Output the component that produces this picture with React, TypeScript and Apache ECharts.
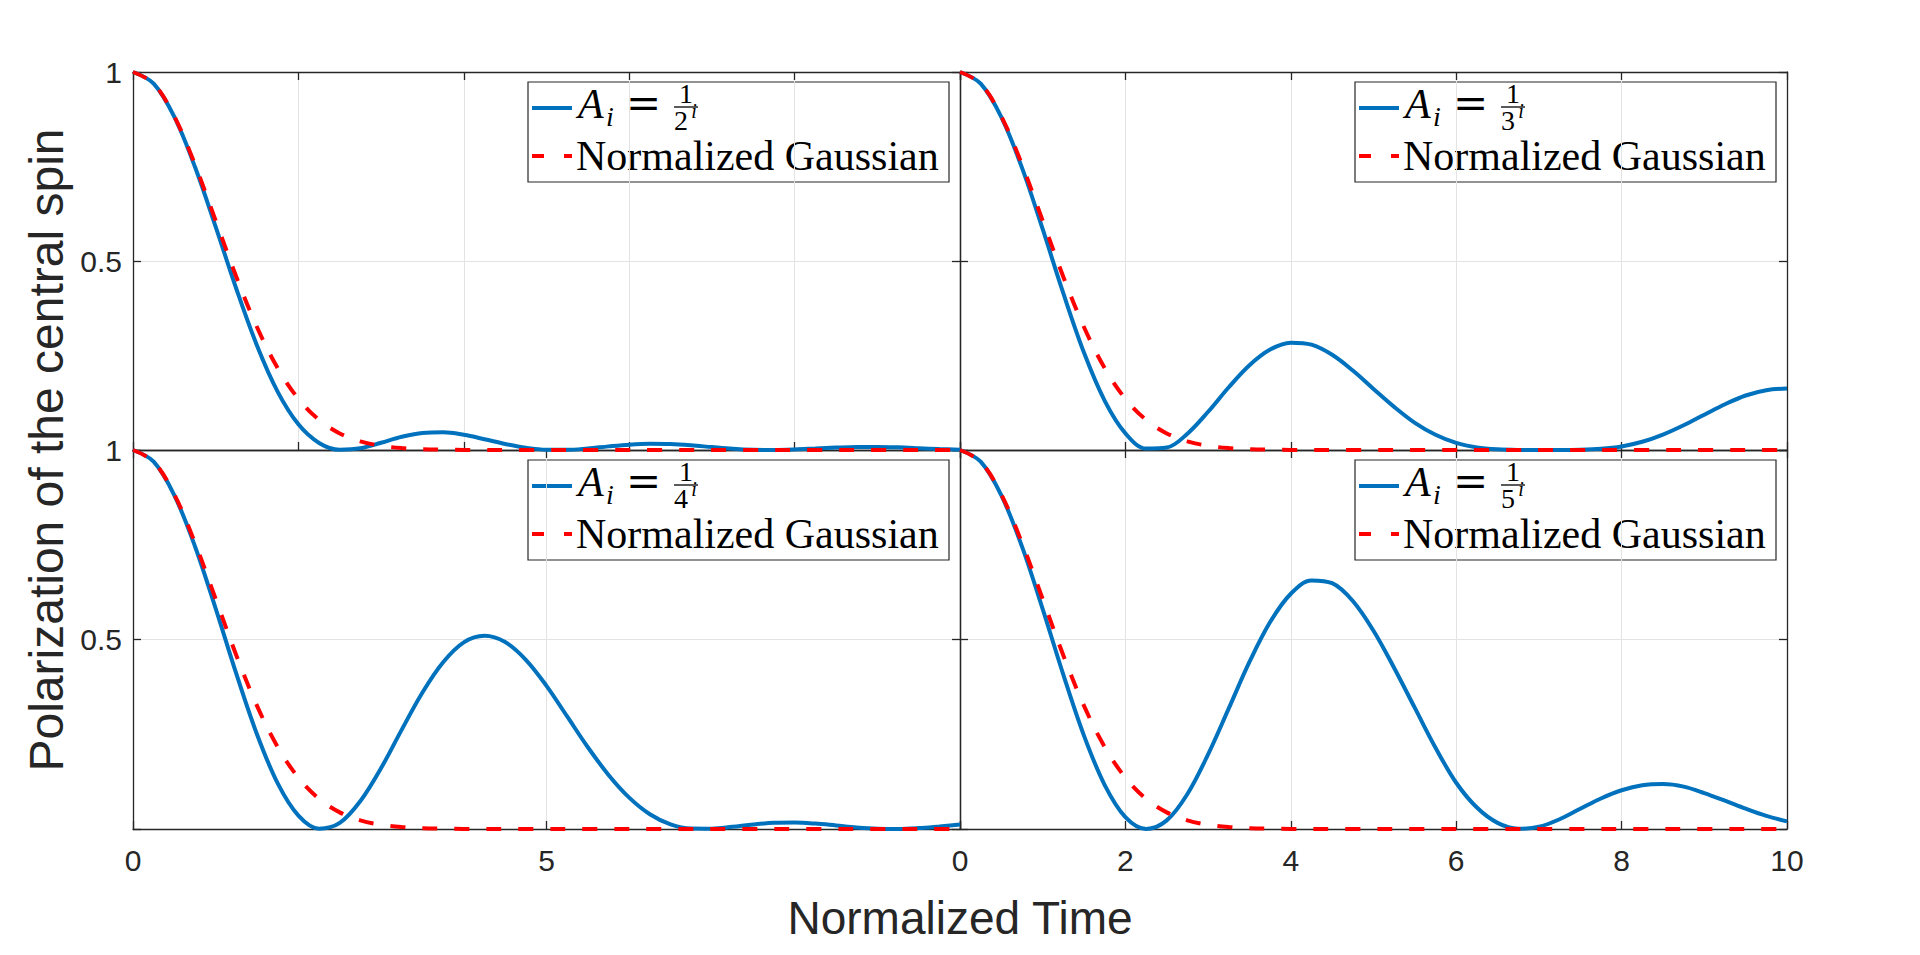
import React, { useEffect, useRef } from "react";
import * as echarts from "echarts";

// Normalized time samples
const T = [
  0, 0.25, 0.5, 0.75, 1, 1.25, 1.5, 1.75, 2, 2.25, 2.5, 2.75, 3, 3.25, 3.5, 3.75, 4, 4.25, 4.5, 4.75, 5,
  5.25, 5.5, 5.75, 6, 6.25, 6.5, 6.75, 7, 7.25, 7.5, 7.75, 8, 8.25, 8.5, 8.75, 9, 9.25, 9.5, 9.75, 10,
];

// Normalized Gaussian (same in every panel)
const GAUSS = [
  1, 0.9692, 0.8825, 0.7548, 0.6065, 0.4578, 0.3247, 0.2163, 0.1353, 0.0796, 0.0439, 0.0228, 0.0111, 0.0051,
  0.0022, 0.0009, 0.0003, 0.0001, 0, 0, 0, 0, 0, 0, 0, 0, 0, 0, 0, 0, 0, 0, 0, 0, 0, 0, 0, 0, 0, 0, 0,
];

// A_i = 1/2^i
const POL_2 = [
  1, 0.9692, 0.8811, 0.7485, 0.59, 0.426, 0.2758, 0.1538, 0.0679, 0.0187, 0.0007, 0.0044, 0.0191, 0.0349,
  0.0451, 0.0467, 0.0402, 0.0286, 0.016, 0.006, 0.0007, 0.0005, 0.0042, 0.0096, 0.0142, 0.0164, 0.0156,
  0.0123, 0.0077, 0.0034, 0.0007, 0.0001, 0.0014, 0.0039, 0.0064, 0.0081, 0.0082, 0.007, 0.0048, 0.0024,
  0.0007,
];

// A_i = 1/3^i
const POL_3 = [
  1, 0.9691, 0.8806, 0.7464, 0.584, 0.4141, 0.2571, 0.1301, 0.044, 0.0037, 0.0064, 0.0431, 0.1011, 0.1661,
  0.2244, 0.2658, 0.284, 0.2788, 0.252, 0.2102, 0.1616, 0.1141, 0.072, 0.0404, 0.0188, 0.0068, 0.0017,
  0.0002, 0, 0, 0.0005, 0.003, 0.0094, 0.0217, 0.0407, 0.0654, 0.0933, 0.121, 0.1442, 0.1582, 0.1627,
];

// A_i = 1/4^i
const POL_4 = [
  1, 0.9691, 0.8804, 0.7455, 0.5815, 0.4092, 0.2495, 0.1203, 0.0353, 0.0008, 0.0161, 0.074, 0.1608, 0.2623,
  0.3602, 0.4399, 0.4924, 0.5097, 0.4932, 0.4465, 0.3777, 0.2969, 0.2157, 0.1427, 0.0827, 0.0388, 0.0121,
  0.0012, 0.0008, 0.0059, 0.012, 0.0162, 0.0169, 0.0142, 0.0093, 0.0042, 0.0008, 0.0001, 0.0024, 0.0068,
  0.0116,
];

// A_i = 1/5^i
const POL_5 = [
  1, 0.9691, 0.8803, 0.745, 0.5802, 0.4067, 0.2458, 0.116, 0.0313, 0.0001, 0.0227, 0.0924, 0.1969, 0.3183,
  0.4408, 0.5461, 0.6208, 0.6558, 0.6486, 0.6017, 0.5231, 0.4249, 0.3195, 0.2144, 0.122, 0.0566, 0.0161,
  0.0005, 0.0058, 0.0258, 0.0533, 0.0806, 0.1022, 0.1154, 0.1185, 0.1119, 0.0949, 0.0747, 0.0537, 0.0347,
  0.02,
];

const PANEL_BASES = ["2", "3", "4", "5"];
const X_INTERVALS = [2, 2, 5, 2];
const LEGEND_GAUSS = "Normalized Gaussian";
const X_TITLE = "Normalized Time";
const Y_TITLE = "Polarization of the central spin";

const BLUE = "#0072BD";
const RED = "#FF0000";
const AX = "#262626";
const GRIDC = "#e3e3e3";
const SANS = '"Liberation Sans", Arial, Helvetica, sans-serif';
const SERIF = '"Liberation Serif", "Times New Roman", serif';
const SERIF_EQ = '"DejaVu Serif", "Liberation Serif", serif';

const GRIDS = [
  { left: 133, top: 72, width: 827, height: 378 },
  { left: 960, top: 72, width: 827, height: 378 },
  { left: 133, top: 450, width: 827, height: 379 },
  { left: 960, top: 450, width: 827, height: 379 },
];

function legendGroup(gi: number) {
  const g = GRIDS[gi];
  const bx = g.left + g.width - 432;
  const by = g.top + 10;
  const base = PANEL_BASES[gi];
  const txt = (
    text: string,
    x: number,
    y: number,
    size: number,
    italic: boolean,
    align = "left",
    family = SERIF
  ) => ({
    type: "text",
    x,
    y,
    style: {
      text,
      fontSize: size,
      fontFamily: family,
      fontStyle: italic ? "italic" : "normal",
      fill: "#000",
      align,
      verticalAlign: "middle",
    },
  });
  return {
    type: "group",
    x: bx,
    y: by,
    z: 100,
    children: [
      {
        type: "rect",
        shape: { x: 0, y: 0, width: 421, height: 100 },
        style: { fill: "#fff", stroke: AX, lineWidth: 1.2 },
      },
      {
        type: "line",
        shape: { x1: 4, y1: 26, x2: 44, y2: 26 },
        style: { stroke: BLUE, lineWidth: 4 },
      },
      txt("A", 50, 22, 42, true),
      txt("i", 78, 34, 28, true),
      txt("=", 115.5, 21, 42, false, "center", SERIF_EQ),
      txt("1", 158, 11, 28, false, "center"),
      {
        type: "line",
        shape: { x1: 146, y1: 25, x2: 170, y2: 25 },
        style: { stroke: "#000", lineWidth: 1.3 },
      },
      txt(base, 153, 38, 28, false, "center"),
      txt("i", 166, 29, 20, true, "center"),
      {
        type: "line",
        shape: { x1: 4, y1: 74, x2: 44, y2: 74 },
        style: { stroke: RED, lineWidth: 4, lineDash: [12, 20] },
      },
      txt(LEGEND_GAUSS, 48, 74, 42, false),
    ],
  };
}

function buildOption() {
  const xAxis: any[] = [];
  const yAxis: any[] = [];
  const axLine = { show: true, onZero: false, lineStyle: { color: AX, width: 1.3 } };
  const tick = { show: true, inside: true, length: 8, lineStyle: { color: AX, width: 1.3 } };
  const lbl = { fontSize: 30, fontFamily: SANS, color: AX };
  GRIDS.forEach((_, gi) => {
    const bottomRow = gi >= 2;
    const leftCol = gi % 2 === 0;
    xAxis.push({
      type: "value",
      gridIndex: gi,
      position: "bottom",
      min: 0,
      max: 10,
      interval: X_INTERVALS[gi],
      axisLine: axLine,
      axisTick: tick,
      axisLabel: {
        ...lbl,
        show: bottomRow,
        margin: 16,
        showMinLabel: true,
        showMaxLabel: true,
        formatter: (v: number) => (leftCol && v === 10 ? "" : String(v)),
      },
      splitLine: { show: true, lineStyle: { color: GRIDC, width: 1 } },
    });
    yAxis.push({
      type: "value",
      gridIndex: gi,
      position: "left",
      min: 0,
      max: 1,
      interval: 0.5,
      axisLine: axLine,
      axisTick: tick,
      axisLabel: {
        ...lbl,
        show: leftCol,
        margin: 11,
        showMinLabel: true,
        showMaxLabel: true,
        formatter: (v: number) => (v === 0 ? "" : String(v)),
      },
      splitLine: { show: true, lineStyle: { color: GRIDC, width: 1 } },
    });
  });
  GRIDS.forEach((_, gi) => {
    xAxis.push({
      type: "value",
      gridIndex: gi,
      position: "top",
      min: 0,
      max: 10,
      interval: X_INTERVALS[gi],
      axisLine: axLine,
      axisTick: tick,
      axisLabel: { show: false },
      splitLine: { show: false },
    });
    yAxis.push({
      type: "value",
      gridIndex: gi,
      position: "right",
      min: 0,
      max: 1,
      interval: 0.5,
      axisLine: axLine,
      axisTick: tick,
      axisLabel: { show: false },
      splitLine: { show: false },
    });
  });

  const curves = [POL_2, POL_3, POL_4, POL_5];
  const series: any[] = [];
  curves.forEach((vals, gi) => {
    series.push({
      type: "line",
      name: "A_i = 1/" + PANEL_BASES[gi] + "^i",
      xAxisIndex: gi,
      yAxisIndex: gi,
      data: T.map((t, i) => [t, vals[i]]),
      symbol: "none",
      smooth: 0.35,
      lineStyle: { color: BLUE, width: 4 },
      z: 3,
      silent: true,
    });
    series.push({
      type: "line",
      name: LEGEND_GAUSS,
      xAxisIndex: gi,
      yAxisIndex: gi,
      data: T.map((t, i) => [t, GAUSS[i]]),
      symbol: "none",
      smooth: 0.35,
      lineStyle: { color: RED, width: 4, type: [15, 17] },
      z: 4,
      silent: true,
    });
  });

  const graphic: any[] = [
    {
      type: "text",
      x: 46,
      y: 450,
      rotation: Math.PI / 2,
      z: 100,
      style: {
        text: Y_TITLE,
        fontSize: 48,
        fontFamily: SANS,
        fill: AX,
        align: "center",
        verticalAlign: "middle",
      },
    },
    {
      type: "text",
      x: 960,
      y: 918,
      z: 100,
      style: {
        text: X_TITLE,
        fontSize: 46,
        fontFamily: SANS,
        fill: AX,
        align: "center",
        verticalAlign: "middle",
      },
    },
    ...GRIDS.map((_, gi) => legendGroup(gi)),
  ];

  return {
    animation: false,
    backgroundColor: "#fff",
    grid: GRIDS,
    xAxis,
    yAxis,
    series,
    graphic,
  };
}

export default function App() {
  const ref = useRef<HTMLDivElement>(null);
  useEffect(() => {
    if (!ref.current) return;
    const chart = echarts.init(ref.current, null, { renderer: "svg" });
    chart.setOption(buildOption() as any);
    return () => chart.dispose();
  }, []);
  return (
    <div
      ref={ref}
      style={{ position: "absolute", left: 0, top: 0, width: 1920, height: 955, background: "#fff" }}
    />
  );
}
